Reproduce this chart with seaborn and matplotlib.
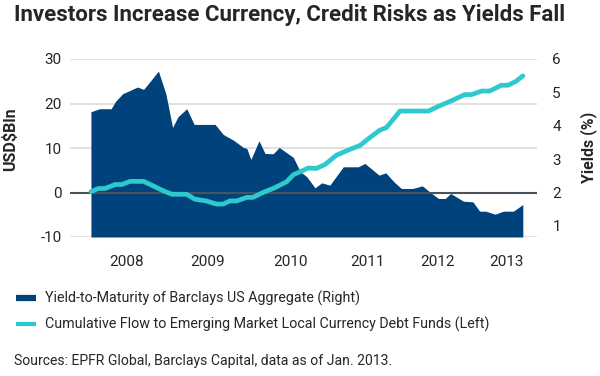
import matplotlib
matplotlib.use('Agg')
import pandas as pd
import seaborn as sns
import matplotlib.pyplot as plt
from matplotlib.lines import Line2D

# yield-to-maturity of Barclays US Aggregate (right axis, %), x = months since start
yield_month = [0, 1.3, 3.0, 3.6, 4.7, 5.8, 6.9, 7.8, 8.7, 10.0, 11.1, 12.1, 12.9, 14.2, 15.3,
               18.4, 19.6, 21.1, 22.6, 23.1, 23.7, 24.9, 25.8, 27.0, 27.9, 30.0, 31.0, 32.0,
               33.2, 34.2, 35.4, 37.4, 39.6, 40.6, 42.7, 43.7, 44.9, 46.0, 47.7, 49.1, 50.2,
               51.5, 52.5, 53.3, 55.2, 56.6, 57.6, 58.5, 59.9, 61.1, 62.6, 64.0]
yield_pct = [4.42, 4.51, 4.51, 4.72, 4.96, 5.06, 5.16, 5.09, 5.31, 5.64, 4.96, 3.95, 4.27, 4.51,
             4.04, 4.04, 3.74, 3.57, 3.35, 3.32, 2.99, 3.55, 3.17, 3.16, 3.35, 3.05, 2.63, 2.47,
             2.14, 2.29, 2.22, 2.77, 2.77, 2.87, 2.52, 2.59, 2.32, 2.12, 2.12, 2.20, 2.02, 1.82,
             1.82, 1.97, 1.74, 1.72, 1.44, 1.44, 1.35, 1.44, 1.44, 1.64]

# cumulative flow to EM local currency debt funds (left axis, USD bn)
flow_month = [0, 1.1, 2.1, 3.6, 4.6, 5.8, 7.8, 9.2, 10.7, 12.0, 14.2, 15.4, 17.1, 18.6, 19.6,
              20.6, 21.6, 23.1, 24.0, 25.5, 27.0, 29.0, 30.0, 31.5, 32.2, 33.4, 34.7, 36.4,
              38.4, 39.9, 41.3, 42.8, 43.8, 45.8, 50.0, 51.7, 53.4, 55.4, 56.4, 57.9, 59.1,
              60.8, 61.8, 63.0, 64.0]
flow_bn = [0.2, 0.9, 0.9, 1.8, 1.8, 2.5, 2.5, 1.5, 0.4, -0.4, -0.4, -1.5, -1.9, -2.6, -2.6,
           -1.9, -1.9, -1.1, -1.1, 0.0, 0.9, 2.4, 4.0, 5.0, 5.5, 5.4, 6.3, 8.4, 9.7, 10.6,
           12.3, 14.0, 14.6, 18.3, 18.3, 19.5, 20.6, 22.0, 22.0, 22.8, 22.8, 24.1, 24.1, 25.0, 26.2]

year_pos = [5.3, 17.3, 29.6, 41.0, 51.3, 61.6]
year_labels = ['2008', '2009', '2010', '2011', '2012', '2013']
left_ticks = [-10, 0, 10, 20, 30]
right_ticks = [1, 2, 3, 4, 5, 6]

df_yield = pd.DataFrame({'month': yield_month, 'pct': yield_pct})
df_flow = pd.DataFrame({'month': flow_month, 'bn': flow_bn})

dark_blue = '#00437c'
cyan = '#2dc9cf'

sns.set_theme(style='white')
plt.rcParams['font.family'] = ['Roboto', 'DejaVu Sans']

fig = plt.figure(figsize=(6, 3.76), dpi=100)
ax = fig.add_axes([70/600, 1-237/376, 467/600, 178/376])
ax2 = ax.twinx()
ax3 = ax.twinx()

# left axis: grid + ticks
ax.set_ylim(-10, 30)
ax.set_yticks(left_ticks)
ax.set_yticklabels(['-10', '0', '10', '20', '30'])
ax.yaxis.grid(True, color='#dedede', lw=1.3)
ax.set_ylabel('USD$Bln', fontsize=11.5, fontweight='bold')
ax.yaxis.set_label_coords(-0.111, 0.55)

# right axis: yield area
ax2.fill_between(df_yield['month'], 2 - 10/7.5, df_yield['pct'], color=dark_blue, lw=0)
ax2.set_ylim(2 - 10/7.5, 6)
ax2.set_yticks(right_ticks)
ax2.set_ylabel('Yields (%)', fontsize=11.5, fontweight='bold')
ax2.yaxis.set_label_coords(1.092, 0.506)

# overlay axis sharing left scale: zero line + flow line
ax3.axhline(0, color='#48535e', lw=1.5)
sns.lineplot(data=df_flow, x='month', y='bn', ax=ax3, color=cyan, lw=3.4,
             solid_capstyle='round')
ax3.set_ylim(-10, 30)
ax3.set_yticks([])
ax3.set_ylabel('')

ax.set_xlim(-3.1, 66.1)
ax.set_xticks(year_pos)
ax.set_xticklabels(year_labels)

for a in (ax, ax2, ax3):
    for s in a.spines.values():
        s.set_visible(False)
ax.tick_params(axis='y', length=0, pad=6, labelsize=11)
ax.tick_params(axis='x', length=0, pad=13, labelsize=11)
ax2.tick_params(axis='y', length=0, pad=11, labelsize=11)

ax.set_zorder(1)
ax2.set_zorder(2)
ax3.set_zorder(3)
ax2.patch.set_visible(False)
ax3.patch.set_visible(False)

fig.text(14/600, 1-15/376, 'Investors Increase Currency, Credit Risks as Yields Fall',
         fontsize=16, fontweight='bold', va='center', ha='left')

handles = [Line2D([], [], color=dark_blue, lw=4.5, solid_capstyle='butt'),
           Line2D([], [], color=cyan, lw=3, solid_capstyle='butt')]
labels = ['Yield-to-Maturity of Barclays US Aggregate (Right)',
          'Cumulative Flow to Emerging Market Local Currency Debt Funds (Left)']
fig.legend(handles, labels, loc='upper left', bbox_to_anchor=(16/600, 1-291/376),
           frameon=False, fontsize=10.3, handlelength=1.43, handletextpad=0.62,
           labelspacing=0.75, borderpad=0, borderaxespad=0)

fig.text(14/600, 1-361/376, 'Sources: EPFR Global, Barclays Capital, data as of Jan. 2013.',
         fontsize=10.1, va='center', ha='left')

fig.savefig('out.png', dpi=100)
